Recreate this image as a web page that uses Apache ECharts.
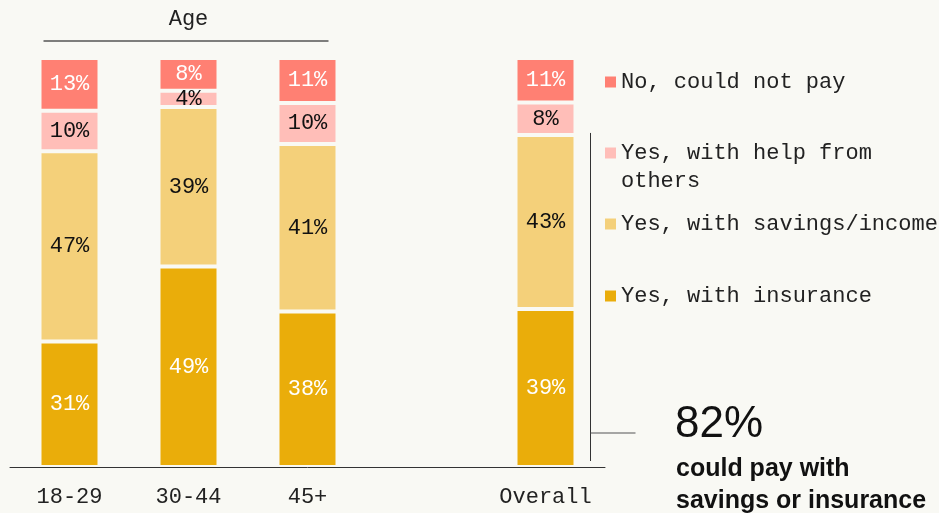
<!DOCTYPE html>
<html>
<head>
<meta charset="utf-8">
<script src="https://cdn.jsdelivr.net/npm/echarts@6/dist/echarts.min.js"></script>
<style>
  html, body { margin: 0; padding: 0; background: #F9F9F4; }
  #chart { width: 939px; height: 513px; }
</style>
</head>
<body>
<div id="chart"></div>
<script>
// Groups along the x axis (blank slot separates the age groups from the overall bar)
const categories = ['18-29', '30-44', '45+', '', 'Overall'];

// Share of respondents per answer (%), as labelled
const noPay      = [13, 8, 11, null, 11];
const helpOthers = [10, 4, 10, null, 8];
const savings    = [47, 39, 41, null, 43];
const insurance  = [31, 49, 38, null, 39];

const seriesNames = {
  noPay: 'No, could not pay',
  help: 'Yes, with help from others',
  savings: 'Yes, with savings/income',
  insurance: 'Yes, with insurance'
};

const headline = '82%';
const headlineNote = 'could pay with\nsavings or insurance';

const BG = '#F9F9F4';
const MONO = '"Liberation Mono", "DejaVu Sans Mono", monospace';
const SANS = '"Liberation Sans", Arial, sans-serif';
const FS = 22;

// Each column is a 100% stack: the labelled shares are scaled to the column total
const totals = categories.map((_, i) =>
  [noPay, helpOthers, savings, insurance].reduce((s, arr) => s + (arr[i] || 0), 0));

function shares(arr) {
  return arr.map((v, i) => v == null ? null : { value: v / totals[i] * 100, raw: v });
}

function barSeries(name, arr, color, textColor) {
  return {
    name: name,
    type: 'bar',
    stack: 'all',
    barWidth: 60,
    data: shares(arr),
    itemStyle: { color: color, borderColor: BG, borderWidth: 2 },
    label: {
      show: true,
      position: 'inside',
      formatter: p => p.data.raw + '%',
      color: textColor,
      fontFamily: MONO,
      fontSize: FS
    },
    emphasis: { disabled: true }
  };
}

const colors = {
  noPay: '#FF8073',
  help: '#FFBEB8',
  savings: '#F4D07A',
  insurance: '#EAAD0A'
};

function legendItem(name, centerY, twoLines) {
  return {
    show: true,
    selectedMode: false,
    orient: 'vertical',
    left: 605,
    top: twoLines ? centerY - 42 : centerY - 14,
    icon: 'rect',
    itemWidth: 11,
    itemHeight: 11,
    padding: 0,
    itemStyle: { borderWidth: 0 },
    data: [name],
    // leading blank line keeps the first text line level with the swatch
    formatter: twoLines ? () => ' \nYes, with help from\nothers' : undefined,
    textStyle: {
      fontFamily: MONO,
      fontSize: FS,
      color: '#222',
      lineHeight: 28
    }
  };
}

const chart = echarts.init(document.getElementById('chart'));

chart.setOption({
  backgroundColor: BG,
  animation: false,
  grid: { left: 10, right: 334, top: 58, bottom: 46 },
  xAxis: {
    type: 'category',
    data: categories,
    axisLine: { lineStyle: { color: '#333', width: 1 } },
    axisTick: { show: false },
    axisLabel: { interval: 0, fontFamily: MONO, fontSize: FS, color: '#222', margin: 19 }
  },
  yAxis: { type: 'value', min: 0, max: 100, show: false },
  legend: [
    legendItem(seriesNames.noPay, 82, false),
    legendItem(seriesNames.help, 153, true),
    legendItem(seriesNames.savings, 224, false),
    legendItem(seriesNames.insurance, 296, false)
  ],
  series: [
    barSeries(seriesNames.insurance, insurance, colors.insurance, '#fff'),
    barSeries(seriesNames.savings, savings, colors.savings, '#111'),
    barSeries(seriesNames.help, helpOthers, colors.help, '#111'),
    barSeries(seriesNames.noPay, noPay, colors.noPay, '#fff')
  ]
});

// Annotations placed from the axis scales
const px = (cat, val) => chart.convertToPixel({ gridIndex: 0 }, [cat, val]);
const ageLeft = px(0, 0)[0] - 26;
const ageRight = px(2, 0)[0] + 21;
const ageMid = (px(0, 0)[0] + px(2, 0)[0]) / 2;
const overallIdx = categories.indexOf('Overall');
const overallX = px(overallIdx, 0)[0];
const baseY = px(overallIdx, 0)[1];
const payShare = (insurance[overallIdx] + savings[overallIdx]) / totals[overallIdx] * 100;
const bracketTop = px(overallIdx, payShare)[1] - 2;
const bracketX = overallX + 45;
const tickY = baseY - 34;

chart.setOption({
  graphic: [
    {
      type: 'text', x: ageMid, y: 19,
      style: { text: 'Age', fontFamily: MONO, fontSize: FS, fill: '#222', align: 'center', verticalAlign: 'middle' }
    },
    {
      type: 'line',
      shape: { x1: ageLeft, y1: 41, x2: ageRight, y2: 41 },
      style: { stroke: '#555', lineWidth: 1.5 }
    },
    {
      type: 'line',
      shape: { x1: bracketX, y1: bracketTop, x2: bracketX, y2: baseY - 6 },
      style: { stroke: '#333', lineWidth: 1 }
    },
    {
      type: 'line',
      shape: { x1: bracketX, y1: tickY, x2: bracketX + 45, y2: tickY },
      style: { stroke: '#555', lineWidth: 1.2 }
    },
    {
      type: 'text',
      x: 675, y: 425,
      style: { text: headline, fontFamily: SANS, fontSize: 44, fill: '#111', verticalAlign: 'middle' }
    },
    {
      type: 'text',
      x: 676, y: 453,
      style: { text: headlineNote, fontFamily: SANS, fontWeight: 'bold', fontSize: 25, lineHeight: 32, fill: '#111', verticalAlign: 'top' }
    }
  ]
});
</script>
</body>
</html>
